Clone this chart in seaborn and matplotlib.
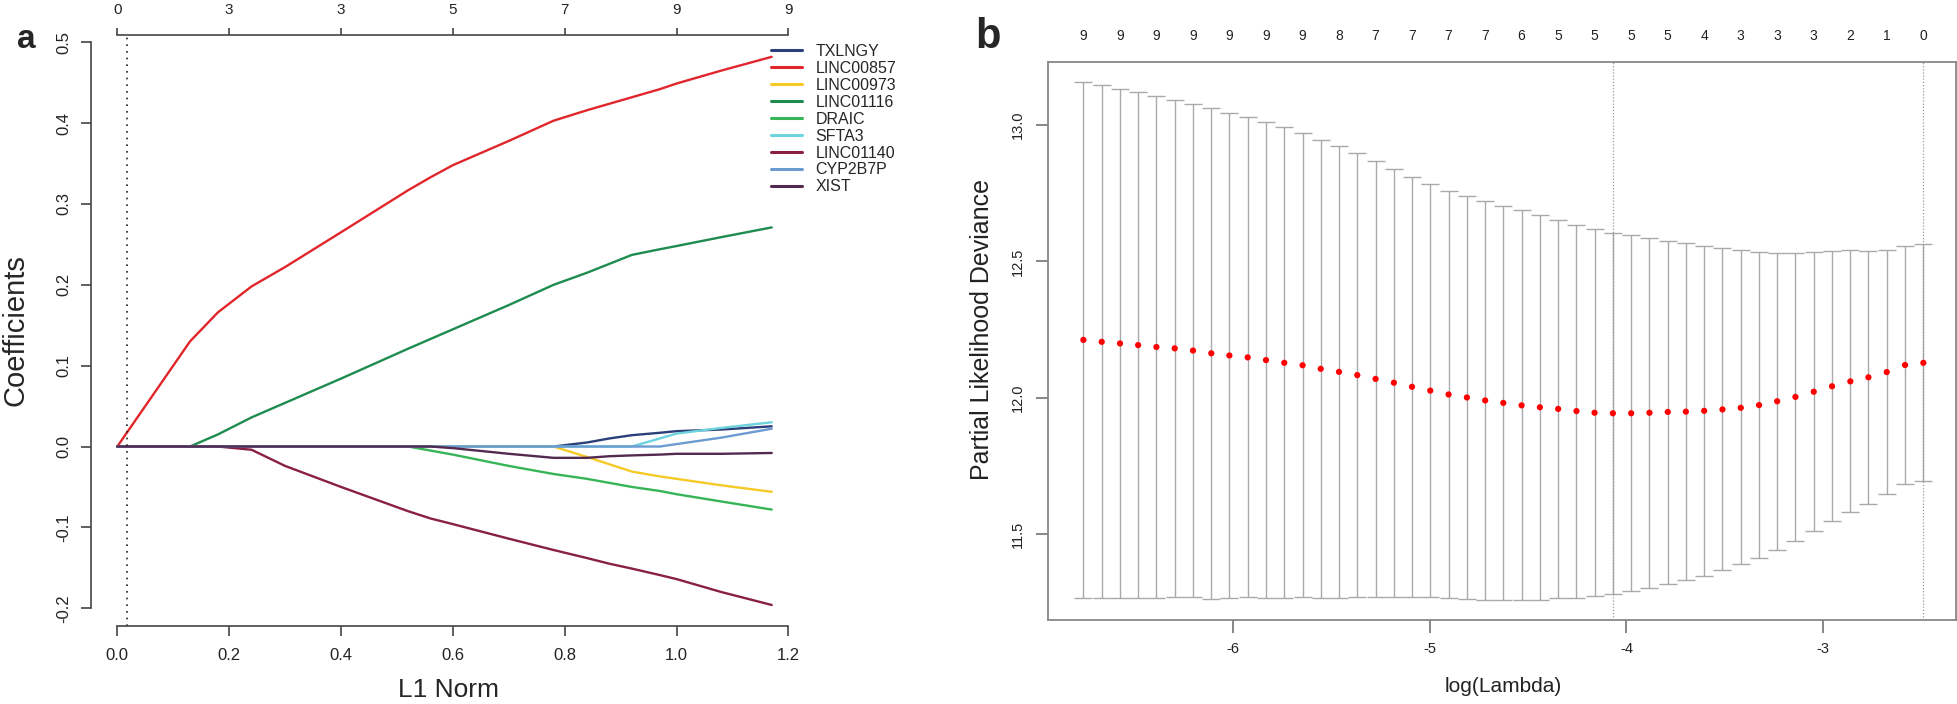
import numpy as np
import pandas as pd
import matplotlib
matplotlib.use('Agg')
import matplotlib.pyplot as plt
import seaborn as sns
from matplotlib.lines import Line2D

# ---------------- panel a: lasso coefficient paths ----------------
genes = ['TXLNGY', 'LINC00857', 'LINC00973', 'LINC01116', 'DRAIC',
         'SFTA3', 'LINC01140', 'CYP2B7P', 'XIST']
gene_colors = ['#2B3F7A', '#E0262B', '#F5C926', '#1E8C4E', '#35B558',
               '#6DD3DD', '#8A2040', '#6B9BD1', '#53294F']

l1_norm = [0.0, 0.13, 0.18, 0.24, 0.30, 0.40, 0.52, 0.56, 0.60, 0.70,
           0.78, 0.84, 0.88, 0.92, 0.97, 1.00, 1.08, 1.17]
coef_TXLNGY = [0, 0, 0, 0, 0, 0, 0, 0, 0, 0,
               0, 0.005, 0.010, 0.014, 0.017, 0.019, 0.021, 0.025]
coef_LINC00857 = [0, 0.130, 0.166, 0.198, 0.222, 0.265, 0.317, 0.333, 0.348, 0.378,
                  0.403, 0.416, 0.424, 0.432, 0.442, 0.449, 0.465, 0.482]
coef_LINC00973 = [0, 0, 0, 0, 0, 0, 0, 0, 0, 0,
                  0, -0.013, -0.022, -0.031, -0.037, -0.040, -0.048, -0.056]
coef_LINC01116 = [0, 0, 0.015, 0.036, 0.054, 0.084, 0.121, 0.133, 0.145, 0.175,
                  0.200, 0.215, 0.226, 0.237, 0.244, 0.248, 0.259, 0.271]
coef_DRAIC = [0, 0, 0, 0, 0, 0, 0, -0.005, -0.010, -0.024,
              -0.034, -0.040, -0.045, -0.050, -0.055, -0.059, -0.068, -0.078]
coef_SFTA3 = [0, 0, 0, 0, 0, 0, 0, 0, 0, 0,
              0, 0, 0, 0, 0.010, 0.016, 0.023, 0.030]
coef_LINC01140 = [0, 0, 0, -0.004, -0.024, -0.050, -0.080, -0.089, -0.096, -0.114,
                  -0.128, -0.138, -0.145, -0.151, -0.159, -0.164, -0.180, -0.196]
coef_CYP2B7P = [0, 0, 0, 0, 0, 0, 0, 0, 0, 0,
                0, 0, 0, 0, 0, 0.003, 0.011, 0.022]
coef_XIST = [0, 0, 0, 0, 0, 0, 0, 0, -0.002, -0.009,
             -0.014, -0.014, -0.012, -0.011, -0.010, -0.009, -0.009, -0.008]

top_a_ticks = [0.0, 0.2, 0.4, 0.6, 0.8, 1.0, 1.2]
top_a_labels = ['0', '3', '3', '5', '7', '9', '9']
chosen_l1 = 0.018

# ---------------- panel b: cross-validation curve ----------------
log_lambda = [-6.760, -6.667, -6.574, -6.482, -6.389, -6.296, -6.203, -6.110,
              -6.018, -5.925, -5.832, -5.739, -5.646, -5.554, -5.461, -5.368,
              -5.275, -5.182, -5.090, -4.997, -4.904, -4.811, -4.718, -4.626,
              -4.533, -4.440, -4.347, -4.254, -4.162, -4.069, -3.976, -3.883,
              -3.790, -3.698, -3.605, -3.512, -3.419, -3.326, -3.234, -3.141,
              -3.048, -2.955, -2.862, -2.770, -2.677, -2.584, -2.491]
cv_mean = [12.212, 12.205, 12.199, 12.193, 12.186, 12.181, 12.173, 12.163,
           12.155, 12.148, 12.138, 12.128, 12.119, 12.106, 12.095, 12.083,
           12.069, 12.055, 12.040, 12.026, 12.012, 12.001, 11.990, 11.981,
           11.972, 11.965, 11.959, 11.951, 11.945, 11.943, 11.943, 11.945,
           11.948, 11.949, 11.952, 11.957, 11.963, 11.973, 11.987, 12.003,
           12.022, 12.042, 12.060, 12.075, 12.094, 12.120, 12.128]
cv_upper = [13.159, 13.146, 13.133, 13.122, 13.106, 13.093, 13.078, 13.063,
            13.045, 13.028, 13.010, 12.992, 12.970, 12.946, 12.923, 12.896,
            12.869, 12.840, 12.810, 12.783, 12.758, 12.740, 12.721, 12.702,
            12.687, 12.670, 12.652, 12.635, 12.618, 12.605, 12.596, 12.587,
            12.576, 12.566, 12.557, 12.548, 12.541, 12.535, 12.531, 12.530,
            12.533, 12.537, 12.541, 12.539, 12.542, 12.557, 12.562]
cv_lower = [11.265, 11.264, 11.265, 11.264, 11.266, 11.269, 11.268, 11.263,
            11.265, 11.268, 11.266, 11.264, 11.268, 11.266, 11.267, 11.270,
            11.269, 11.270, 11.270, 11.269, 11.266, 11.262, 11.259, 11.260,
            11.257, 11.260, 11.266, 11.267, 11.273, 11.279, 11.292, 11.303,
            11.317, 11.331, 11.347, 11.367, 11.389, 11.413, 11.443, 11.476,
            11.511, 11.548, 11.580, 11.610, 11.646, 11.684, 11.695]
nzero_labels = ['9', '9', '9', '9', '9', '9', '9', '8', '7', '7', '7', '7',
                '6', '5', '5', '5', '5', '4', '3', '3', '3', '2', '1', '0']
lambda_min = -4.069
lambda_1se = -2.491

sns.set_style('white')
plt.rcParams['font.family'] = ['Liberation Sans', 'DejaVu Sans']

W, H = 1958, 704
fig = plt.figure(figsize=(W / 100, H / 100), dpi=100)


def px_axes(left, top, right, bottom):
    return fig.add_axes([left / W, 1 - bottom / H, (right - left) / W, (bottom - top) / H])


# ---- panel a ----
ax = px_axes(91, 35, 798, 626)
paths = pd.DataFrame({
    'l1': np.tile(l1_norm, len(genes)),
    'coef': np.concatenate([coef_TXLNGY, coef_LINC00857, coef_LINC00973, coef_LINC01116,
                            coef_DRAIC, coef_SFTA3, coef_LINC01140, coef_CYP2B7P, coef_XIST]),
    'gene': np.repeat(genes, len(l1_norm)),
})
palette = dict(zip(genes, gene_colors))
sns.lineplot(data=paths, x='l1', y='coef', hue='gene', hue_order=genes, palette=palette,
             estimator=None, sort=False, legend=False, linewidth=1.7, ax=ax)
ax.axvline(chosen_l1, color='#222222', linestyle=(0, (1, 3)), linewidth=1.2)
ax.set_xlim(-0.047, 1.217)
ax.set_ylim(-0.222, 0.509)
ax.set_xticks(top_a_ticks, labels=[f'{t:.1f}' for t in top_a_ticks])
ax.set_yticks([-0.2, -0.1, 0.0, 0.1, 0.2, 0.3, 0.4, 0.5])
ax.set_yticklabels(['-0.2', '-0.1', '0.0', '0.1', '0.2', '0.3', '0.4', '0.5'])
ax.set_xlabel('')
ax.set_ylabel('')
for s in ['top', 'right']:
    ax.spines[s].set_visible(False)
ax.spines['left'].set_bounds(-0.2, 0.5)
ax.spines['bottom'].set_bounds(0, 1.2)
for s in ['left', 'bottom']:
    ax.spines[s].set_color('#444444')
    ax.spines[s].set_linewidth(1.2)
ax.tick_params(axis='both', direction='out', length=7, width=1.2, color='#444444',
               labelsize=12, labelcolor='#222222', left=True, bottom=True)
ax.tick_params(axis='x', pad=9)
ax.tick_params(axis='y', pad=7, labelrotation=90)
for lab in ax.get_yticklabels():
    lab.set_va('center')

sec = ax.secondary_xaxis('top')
sec.set_xticks(top_a_ticks, labels=top_a_labels)
sec.spines['top'].set_bounds(0, 1.2)
sec.spines['top'].set_color('#444444')
sec.spines['top'].set_linewidth(1.2)
sec.tick_params(direction='out', length=5, width=1.2, color='#444444', labelsize=11,
                labelcolor='#222222', pad=8)

handles = [Line2D([0], [0], color=c, lw=2.2) for c in gene_colors]
fig.legend(handles, genes, loc='upper left', bbox_to_anchor=(771 / W, 1 - 44 / H),
           frameon=False, fontsize=11.5, handlelength=1.95, handletextpad=0.85,
           labelspacing=0.12, borderpad=0, borderaxespad=0)

fig.text(16 / W, 1 - 330 / H, 'Coefficients', rotation=90, ha='center', va='center', fontsize=21)
fig.text(448 / W, 1 - 690 / H, 'L1 Norm', ha='center', va='center', fontsize=19)
fig.text(26 / W, 1 - 40 / H, 'a', ha='center', va='center', fontsize=24, fontweight='bold')

# ---- panel b ----
axb = px_axes(1048, 62, 1956, 620)
lam = np.array(log_lambda)
mean = np.array(cv_mean)
axb.errorbar(lam, mean, yerr=[mean - np.array(cv_lower), np.array(cv_upper) - mean],
             fmt='none', ecolor='#A9A9A9', elinewidth=1.0, capsize=6.5, capthick=1.0)
sns.scatterplot(x=log_lambda, y=cv_mean, color='red', s=20, edgecolor='none', ax=axb, zorder=3)
for v in [lambda_min, lambda_1se]:
    axb.axvline(v, color='#999999', linestyle=(0, (1, 1.5)), linewidth=0.9)
axb.set_xlim(-6.94, -2.325)
axb.set_ylim(11.185, 13.231)
axb.set_xticks([-6, -5, -4, -3], labels=['-6', '-5', '-4', '-3'])
axb.set_yticks([11.5, 12.0, 12.5, 13.0], labels=['11.5', '12.0', '12.5', '13.0'])
for s in axb.spines.values():
    s.set_visible(True)
    s.set_color('#888888')
    s.set_linewidth(1.3)
axb.tick_params(axis='both', direction='out', length=9, width=1.1, color='#666666',
                labelsize=10.5, labelcolor='#222222', left=True, bottom=True)
axb.tick_params(axis='x', pad=7)
axb.tick_params(axis='y', pad=8, labelrotation=90)
for lab in axb.get_yticklabels():
    lab.set_va('center')

secb = axb.secondary_xaxis('top')
secb.set_xticks(log_lambda[::2], labels=nzero_labels)
secb.spines['top'].set_visible(False)
secb.tick_params(length=0, labelsize=10, labelcolor='#222222', pad=14)

fig.text(982 / W, 1 - 330 / H, 'Partial Likelihood Deviance', rotation=90,
         ha='center', va='center', fontsize=18, color='#222222')
fig.text(1503 / W, 1 - 687 / H, 'log(Lambda)', ha='center', va='center', fontsize=15,
         color='#222222')
fig.text(988 / W, 1 - 37 / H, 'b', ha='center', va='center', fontsize=30, fontweight='bold')

fig.savefig('out.png', dpi=100)
